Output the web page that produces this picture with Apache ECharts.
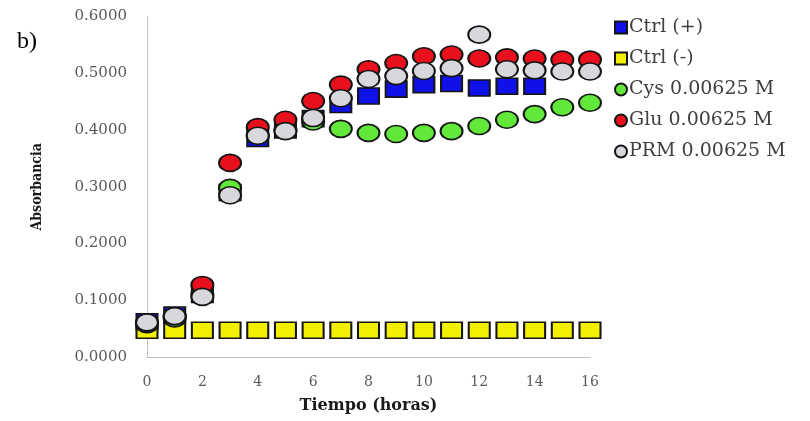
<!DOCTYPE html>
<html>
<head>
<meta charset="utf-8">
<script src="https://cdn.jsdelivr.net/npm/echarts@6/dist/echarts.min.js"></script>
<style>
  html, body { margin: 0; padding: 0; background: #ffffff; }
  #chart { width: 810px; height: 421px; }
</style>
</head>
<body>
<div id="chart"></div>
<script>
// Absorbance readings over time (hours) for each condition; null = no reading
const hours = [0, 1, 2, 3, 4, 5, 6, 7, 8, 9, 10, 11, 12, 13, 14, 15, 16];
const ctrlPos = [0.062, 0.074, 0.110, 0.290, 0.385, 0.400, 0.420, 0.445, 0.460, 0.472, 0.480, 0.482, 0.474, 0.477, 0.477, null, null];
const ctrlNeg = [0.047, 0.047, 0.047, 0.047, 0.047, 0.047, 0.047, 0.047, 0.047, 0.047, 0.047, 0.047, 0.047, 0.047, 0.047, 0.047, 0.047];
const cys = [0.058, 0.068, 0.110, 0.298, 0.390, 0.400, 0.415, 0.402, 0.395, 0.393, 0.395, 0.398, 0.407, 0.418, 0.428, 0.440, 0.448];
const glu = [0.060, 0.072, 0.127, 0.342, 0.405, 0.418, 0.451, 0.480, 0.507, 0.518, 0.530, 0.533, 0.526, 0.528, 0.526, 0.524, 0.524];
const prm = [0.061, 0.072, 0.106, 0.285, 0.390, 0.398, 0.421, 0.456, 0.490, 0.495, 0.504, 0.509, 0.568, 0.507, 0.505, 0.503, 0.503];

const seriesNames = ['Ctrl (+)', 'Ctrl (-)', 'Cys 0.00625 M', 'Glu 0.00625 M', 'PRM 0.00625 M'];
const seriesData = [ctrlPos, ctrlNeg, cys, glu, prm];
const seriesColors = ['#1010e8', '#f2f000', '#62e83a', '#e8101c', '#d8d8dc'];
const seriesSymbols = ['rect', 'rect', 'circle', 'circle', 'circle'];

const serif = '"DejaVu Serif", "Liberation Serif", serif';

const chart = echarts.init(document.getElementById('chart'), null, { renderer: 'canvas' });

const series = seriesNames.map((name, i) => ({
  name: name,
  type: 'scatter',
  symbol: seriesSymbols[i],
  symbolSize: seriesSymbols[i] === 'rect' ? [21, 16] : [22, 17],
  data: hours
    .map((h, k) => [h, seriesData[i][k]])
    .filter(p => p[1] !== null),
  itemStyle: {
    color: seriesColors[i],
    borderColor: '#151515',
    borderWidth: 1.8,
    opacity: 1
  },
  emphasis: { disabled: true }
}));

chart.setOption({
  animation: false,
  backgroundColor: '#ffffff',
  graphic: [{
    type: 'text',
    left: 17,
    top: 30,
    style: {
      text: 'b)',
      font: '24px "Liberation Serif", serif',
      fill: '#000000'
    }
  }],
  legend: {
    orient: 'vertical',
    left: 609,
    top: 13,
    itemWidth: 12,
    itemHeight: 12,
    itemGap: 12,
    data: seriesNames.map((n, i) => ({ name: n, icon: seriesSymbols[i] })),
    textStyle: {
      fontFamily: serif,
      fontSize: 19,
      lineHeight: 19,
      color: '#404040',
      padding: [0, 0, 0, -3]
    }
  },
  grid: {
    left: 147,
    right: 220,
    top: 16.5,
    bottom: 64,
    containLabel: false
  },
  xAxis: {
    type: 'value',
    min: 0,
    max: 16,
    interval: 2,
    name: 'Tiempo (horas)',
    nameLocation: 'middle',
    nameGap: 41,
    nameTextStyle: {
      fontFamily: serif,
      fontWeight: 'bold',
      fontSize: 16,
      color: '#1a1a1a'
    },
    axisLine: { show: true, lineStyle: { color: '#bfbfbf', width: 1 } },
    axisTick: { show: false },
    splitLine: { show: false },
    axisLabel: {
      fontFamily: serif,
      fontSize: 14,
      color: '#595959',
      margin: 18
    }
  },
  yAxis: {
    type: 'value',
    min: 0,
    max: 0.6,
    interval: 0.1,
    name: 'Absorbancia',
    nameLocation: 'middle',
    nameGap: 103,
    nameRotate: 90,
    nameTextStyle: {
      fontFamily: '"DejaVu Serif Condensed", "DejaVu Serif", serif',
      fontWeight: 'bold',
      fontSize: 14,
      color: '#1a1a1a'
    },
    axisLine: { show: true, lineStyle: { color: '#bfbfbf', width: 1 } },
    axisTick: { show: false },
    splitLine: { show: false },
    axisLabel: {
      fontFamily: serif,
      fontSize: 15,
      color: '#595959',
      margin: 20,
      formatter: v => v.toFixed(4)
    }
  },
  series: series
});
</script>
</body>
</html>
